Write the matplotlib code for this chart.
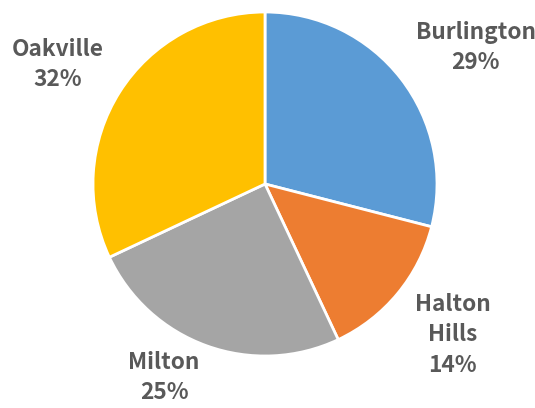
import matplotlib
matplotlib.use('Agg')
import matplotlib.pyplot as plt
import numpy as np

plt.rcParams['font.family'] = ['Noto Sans CJK JP', 'DejaVu Sans']

# ── Data ──────────────────────────────────────────────────────────────────────
towns  = ["Burlington", "Halton\nHills", "Milton", "Oakville"]
shares = [29, 14, 25, 32]
colors = ["#5B9BD5", "#ED7D31", "#A5A5A5", "#FFC000"]

# label placement: (radius, angle offset in degrees from the wedge middle)
label_pos = [(1.46, -4.8), (1.40, 0.8), (1.27, -7.7), (1.39, 2.4)]

W, H, DPI = 535, 408, 100
cx, cy, R = 265, 184, 172   # pie centre / radius in pixels

fig = plt.figure(figsize=(W / DPI, H / DPI), dpi=DPI)
ax = fig.add_axes([0, 0, 1, 1])

wedges, _ = ax.pie(shares, colors=colors, startangle=90, counterclock=False,
                   radius=1.0, center=(0, 0), frame=True,
                   wedgeprops=dict(edgecolor='white', linewidth=2))
ax.set_xlim(-cx / R, (W - cx) / R)
ax.set_ylim(-(H - cy) / R, cy / R)
ax.set_aspect('equal')
ax.axis('off')

total = sum(shares)
for w, name, val, (r, off) in zip(wedges, towns, shares, label_pos):
    mid = np.deg2rad((w.theta1 + w.theta2) / 2 + off)
    ax.text(r * np.cos(mid), r * np.sin(mid), f"{name}\n{val / total * 100:.0f}%",
            ha='center', va='center', fontsize=16.3, fontweight='bold',
            color='#595959', linespacing=1.4)

fig.savefig("out.png", dpi=DPI)
